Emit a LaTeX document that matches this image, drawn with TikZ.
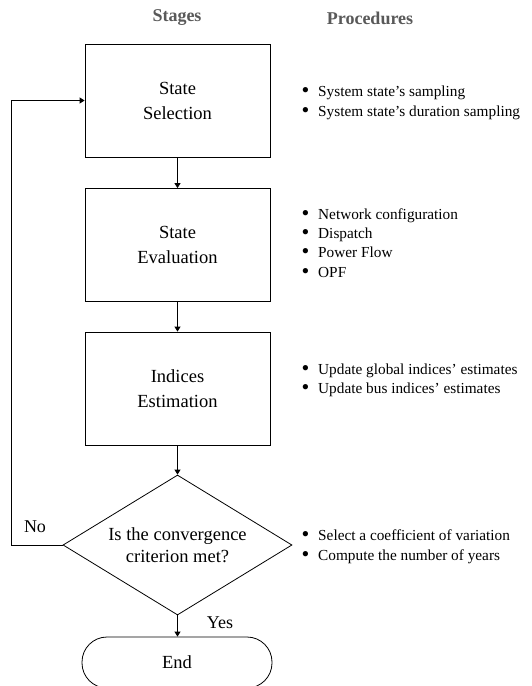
\documentclass[tikz,border=0pt]{standalone}
\usepackage{fontspec}
\setmainfont{Liberation Serif}
\usetikzlibrary{shapes.geometric,arrows.meta}
\tikzset{
  stagebox/.style={draw, line width=0.8pt, rectangle, minimum width=185pt, minimum height=113pt, inner sep=0pt, align=center, font=\fontsize{18.5}{25}\selectfont},
  decision/.style={draw, line width=0.8pt, diamond, aspect=1.636, minimum width=229pt, minimum height=140pt, inner sep=0pt, align=center, font=\fontsize{18.5}{22}\selectfont},
  terminal/.style={draw, line width=0.8pt, rectangle, rounded corners=25pt, minimum width=190pt, minimum height=51pt, inner sep=0pt, font=\fontsize{18.5}{22}\selectfont},
  header/.style={font=\fontsize{18}{22}\selectfont\bfseries, text=black!65},
  proc/.style={anchor=base west, inner sep=0pt, font=\fontsize{15.3}{19}\selectfont},
  lbl/.style={inner sep=0pt, font=\fontsize{18}{22}\selectfont},
  arr/.style={line width=0.8pt, -{Triangle[length=5pt,width=6pt]}},
}
\newcommand{\bul}{\makebox[17pt][l]{\hspace{0.5pt}\smash{\raisebox{-1.2pt}{\scalebox{1.45}{\textbullet}}}}}
\begin{document}
\begin{tikzpicture}[x=1pt,y=-1pt]
\path[use as bounding box, clip] (0,0) rectangle (531,686);
\node[header] (hs) at (177,18) {Stages};
\node[header] (hp) at (370,18) {Procedures};

\node[stagebox] (b1) at (177.5,100.5) {State\\Selection};
\node[stagebox] (b2) at (177.5,245) {State\\Evaluation};
\node[stagebox] (b3) at (177.5,388.5) {Indices\\Estimation};
\node[decision] (d) at (177.5,545) {Is the convergence\\criterion met?};
\node[terminal] (e) at (177,662.5) {End};

\draw[arr] (b1.south) -- (b2.north);
\draw[arr] (b2.south) -- (b3.north);
\draw[arr] (b3.south) -- (d.north);
\draw[arr] (d.south) -- (d.south |- e.north);
\coordinate (lp) at (11,545);
\draw[arr] (d.west) -- (lp) |- (b1.west);

\node[lbl] (no) at (35,527) {No};
\node[lbl] (yes) at (220,623) {Yes};

\node[proc] (p1a) at (301,96) {\bul System state’s sampling};
\node[proc] (p1b) at (301,116) {\bul System state’s duration sampling};
\node[proc] (p2a) at (301,219) {\bul Network configuration};
\node[proc] (p2b) at (301,238) {\bul Dispatch};
\node[proc] (p2c) at (301,257) {\bul Power Flow};
\node[proc] (p2d) at (301,277) {\bul OPF};
\node[proc] (p3a) at (301,374) {\bul Update global indices’ estimates};
\node[proc] (p3b) at (301,393) {\bul Update bus indices’ estimates};
\node[proc] (p4a) at (301,540) {\bul Select a coefficient of variation};
\node[proc] (p4b) at (301,560) {\bul Compute the number of years};
\end{tikzpicture}
\end{document}
